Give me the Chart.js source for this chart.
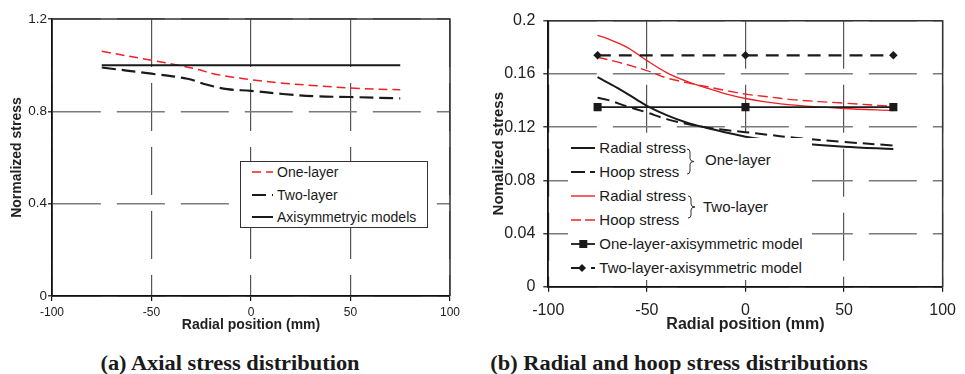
<!DOCTYPE html>
<html><head><meta charset="utf-8">
<script src="https://cdn.jsdelivr.net/npm/chart.js@4/dist/chart.umd.min.js"></script>
<style>
body{margin:0;background:#fff;width:965px;height:374px;overflow:hidden;position:relative;font-family:"Liberation Sans",Arial,sans-serif;color:#1a1a1a}
.wrap{position:absolute;top:0;height:340px}
#w1{left:0;width:480px}
#w2{left:480px;width:485px}
.cap{position:absolute;top:352px;line-height:22px;font-family:"Liberation Serif","Times New Roman",serif;font-weight:bold;font-size:20px;white-space:nowrap;transform:translateX(-50%) scaleX(1.12);color:#1a1a1a}
.lg{position:absolute;background:#fff}
.it{position:absolute;white-space:nowrap;line-height:18px}
svg{position:absolute;overflow:visible}
</style>
</head><body>
<div class="wrap" id="w1"><canvas id="c1" width="480" height="340"></canvas></div>
<div class="wrap" id="w2"><canvas id="c2" width="485" height="340"></canvas></div>

<div class="lg" id="lg1" style="left:240px;top:161px;width:186px;height:65px;border:1px solid #333"></div>
<div class="lg" id="lg2" style="left:568px;top:138px;width:244px;height:142px"></div>

<div class="cap" style="left:230px">(a) Axial stress distribution</div>
<div class="cap" style="left:679px">(b) Radial and hoop stress distributions</div>

<script>
// ---------- data: chart (a) axial stress ----------
const axialOneLayerX = [-75, -50, -36, -26, -19, -9, 0, 16, 33, 50, 75];
const axialOneLayerY = [1.060, 1.021, 0.999, 0.980, 0.963, 0.948, 0.937, 0.922, 0.911, 0.901, 0.893];
const axialTwoLayerX = [-75, -50, -32, -22, -12, 0, 16, 33, 50, 75];
const axialTwoLayerY = [0.990, 0.963, 0.941, 0.915, 0.896, 0.889, 0.875, 0.865, 0.862, 0.856];
const axialAxisymX = [-75, 75];
const axialAxisymY = [1.0, 1.0];
const axialLabels = ["One-layer", "Two-layer", "Axisymmetryic models"];

// ---------- data: chart (b) radial and hoop stress ----------
const oneRadialX = [-75, -65, -55, -50, -40, -30, -20, -10, 0, 10, 25, 50, 75];
const oneRadialY = [0.1575, 0.1495, 0.1405, 0.1360, 0.1290, 0.1235, 0.1195, 0.1160, 0.1128, 0.1105, 0.1080, 0.1052, 0.1035];
const oneHoopX = [-75, -70, -60, -50, -40, -30, -20, -10, 0, 10, 25, 50, 75];
const oneHoopY = [0.1420, 0.1405, 0.1355, 0.1310, 0.1260, 0.1225, 0.1198, 0.1178, 0.1162, 0.1145, 0.1120, 0.1088, 0.1062];
const twoRadialX = [-75, -70, -60, -50, -40, -30, -20, -10, 0, 10, 25, 50, 75];
const twoRadialY = [0.1890, 0.1865, 0.1800, 0.1700, 0.1610, 0.1545, 0.1495, 0.1450, 0.1415, 0.1390, 0.1365, 0.1340, 0.1325];
const twoHoopX = [-75, -65, -50, -40, -30, -20, -10, 0, 10, 25, 50, 75];
const twoHoopY = [0.1725, 0.1690, 0.1625, 0.1570, 0.1535, 0.1505, 0.1475, 0.1448, 0.1430, 0.1405, 0.1380, 0.1355];
const oneAxisymX = [-75, 0, 75];
const oneAxisymY = [0.135, 0.135, 0.135];
const twoAxisymX = [-75, 0, 75];
const twoAxisymY = [0.174, 0.174, 0.174];
const stressLabels = ["Radial stress", "Hoop stress", "Radial stress", "Hoop stress",
  "One-layer-axisymmetric model", "Two-layer-axisymmetric model"];
const groupLabels = ["One-layer", "Two-layer"];

// ---------- axis settings ----------
const xTicksA = {min: -100, max: 100, step: 50};
const yTicksA = {min: 0, max: 1.2, step: 0.4};
const xTicksB = {min: -100, max: 100, step: 50};
const yTicksB = {min: 0, max: 0.2, step: 0.04};
const xTitle = "Radial position (mm)";
const yTitleA = "Normalized stress";
const yTitleB = "Nomalized stress";

const RED = '#ec2227';
const BLK = '#1a1a1a';
const pts = (xs, ys) => xs.map((x, i) => ({x, y: ys[i]}));
const fmt = v => String(+Number(v).toFixed(4));

const framePlugin = {
  id: 'frame',
  beforeDatasetsDraw(chart) {
    const {ctx, chartArea: a} = chart;
    ctx.save();
    ctx.strokeStyle = '#333';
    ctx.lineWidth = 1.5;
    ctx.beginPath();
    ctx.moveTo(a.left, a.top); ctx.lineTo(a.right, a.top); ctx.lineTo(a.right, a.bottom);
    ctx.stroke();
    ctx.restore();
  }
};

function makeChart(id, cfg) {
  return new Chart(document.getElementById(id), {
    type: 'line',
    data: {datasets: cfg.datasets},
    plugins: [framePlugin],
    options: {
      responsive: false, animation: false, devicePixelRatio: 1,
      layout: {padding: cfg.pad},
      plugins: {legend: {display: false}, tooltip: {enabled: false}},
      elements: {line: {tension: 0.35, fill: false}},
      scales: {
        x: {
          type: 'linear', min: cfg.xt.min, max: cfg.xt.max,
          afterFit: s => { s.height = cfg.xH; },
          ticks: {stepSize: cfg.xt.step, color: '#222', padding: cfg.xPad, callback: fmt,
                  font: {family: 'Liberation Sans', size: cfg.xFs}},
          grid: {color: '#555', lineWidth: 1.2, tickLength: 5,
                 tickColor: '#111', tickBorderDash: [], tickWidth: 1.2},
          border: {color: '#111', width: 1.8, dash: [48, 16]},
          title: {display: true, text: xTitle, color: '#222',
                  font: {family: 'Liberation Sans', size: cfg.tFs, weight: 'bold'},
                  padding: {top: 0, bottom: cfg.xTitlePad}}
        },
        y: {
          type: 'linear', min: cfg.yt.min, max: cfg.yt.max,
          afterFit: s => { s.width = cfg.yW; },
          ticks: {stepSize: cfg.yt.step, color: '#222', padding: cfg.yPad, callback: fmt,
                  font: {family: 'Liberation Sans', size: cfg.yFs}},
          grid: {color: '#7a7a7a', lineWidth: 1.6, tickLength: cfg.yTick,
                 tickColor: '#111', tickBorderDash: [], tickWidth: 1.2},
          border: {color: '#111', width: 1.8, dash: [48, 16]},
          title: {display: true, text: cfg.yTitle, color: '#222',
                  font: {family: 'Liberation Sans', size: cfg.ytFs, weight: 'bold'},
                  padding: {top: cfg.yTitlePad, bottom: 0}}
        }
      }
    }
  });
}

makeChart('c1', {
  pad: {left: 0, top: 19, right: 30, bottom: 0},
  xt: xTicksA, yt: yTicksA, xH: 44, yW: 52,
  xFs: 12, yFs: 13.5, tFs: 14, ytFs: 14, xPad: 4, yPad: 1, yTick: 4,
  xTitlePad: 6.6, yTitlePad: 8.6, yTitle: yTitleA,
  datasets: [
    {label: axialLabels[2], data: pts(axialAxisymX, axialAxisymY), borderColor: BLK, borderWidth: 2, pointRadius: 0},
    {label: axialLabels[1], data: pts(axialTwoLayerX, axialTwoLayerY), borderColor: BLK, borderWidth: 2.2, borderDash: [14, 6], pointRadius: 0},
    {label: axialLabels[0], data: pts(axialOneLayerX, axialOneLayerY), borderColor: RED, borderWidth: 1.5, borderDash: [9, 5], pointRadius: 0}
  ]
});

makeChart('c2', {
  pad: {left: 0, top: 20.7, right: 15.7, bottom: 0},
  xt: xTicksB, yt: yTicksB, xH: 53.3, yW: 68.3,
  xFs: 16, yFs: 16, tFs: 16, ytFs: 15, xPad: 9, yPad: 8, yTick: 5,
  xTitlePad: 5.4, yTitlePad: 10, yTitle: yTitleB,
  datasets: [
    {label: stressLabels[4], data: pts(oneAxisymX, oneAxisymY), borderColor: BLK, borderWidth: 1.6,
     pointStyle: 'rect', pointRadius: 5.7, pointBackgroundColor: BLK, pointBorderColor: BLK, pointBorderWidth: 0},
    {label: stressLabels[5], data: pts(twoAxisymX, twoAxisymY), borderColor: BLK, borderWidth: 2.2, borderDash: [13, 8],
     pointStyle: 'rectRot', pointRadius: 4.3, pointBackgroundColor: BLK, pointBorderColor: BLK, pointBorderWidth: 0},
    {label: stressLabels[0], data: pts(oneRadialX, oneRadialY), borderColor: BLK, borderWidth: 2, pointRadius: 0},
    {label: stressLabels[1], data: pts(oneHoopX, oneHoopY), borderColor: BLK, borderWidth: 2, borderDash: [12, 6], pointRadius: 0},
    {label: stressLabels[2], data: pts(twoRadialX, twoRadialY), borderColor: RED, borderWidth: 1.4, pointRadius: 0},
    {label: stressLabels[3], data: pts(twoHoopX, twoHoopY), borderColor: RED, borderWidth: 1.4, borderDash: [10, 5], pointRadius: 0}
  ]
});

// ---------- HTML legends ----------
const NS = 'http://www.w3.org/2000/svg';
function addSvg(parent, x, y, w, h, inner) {
  const s = document.createElementNS(NS, 'svg');
  s.setAttribute('width', w); s.setAttribute('height', h);
  s.style.left = x + 'px'; s.style.top = y + 'px';
  s.innerHTML = inner;
  parent.appendChild(s);
}
function addText(parent, x, cy, txt, fs) {
  const d = document.createElement('div');
  d.className = 'it';
  d.style.left = x + 'px'; d.style.top = (cy - 9) + 'px'; d.style.fontSize = fs + 'px';
  d.textContent = txt;
  parent.appendChild(d);
}
const body = document.body;
const lgA = [
  {cy: 172.3, svg: `<line x1="0" y1="3" x2="21" y2="3" stroke="${RED}" stroke-width="1.6" stroke-dasharray="9 5"/>`},
  {cy: 195, svg: `<line x1="0" y1="3" x2="21" y2="3" stroke="${BLK}" stroke-width="2.2" stroke-dasharray="14 6"/>`},
  {cy: 217, svg: `<line x1="0" y1="3" x2="21" y2="3" stroke="${BLK}" stroke-width="2"/>`}
];
lgA.forEach((r, i) => {
  addSvg(body, 252, r.cy - 3, 21, 6, r.svg);
  addText(body, 277, r.cy, axialLabels[i], 14);
});
const lgB = [
  {cy: 148.3, svg: `<line x1="0" y1="5" x2="24" y2="5" stroke="${BLK}" stroke-width="2"/>`},
  {cy: 172.3, svg: `<line x1="0" y1="5" x2="24" y2="5" stroke="${BLK}" stroke-width="2" stroke-dasharray="14 5"/>`},
  {cy: 196, svg: `<line x1="0" y1="5" x2="24" y2="5" stroke="${RED}" stroke-width="1.4"/>`},
  {cy: 220, svg: `<line x1="0" y1="5" x2="24" y2="5" stroke="${RED}" stroke-width="1.6" stroke-dasharray="10 4"/>`},
  {cy: 244.3, svg: `<line x1="0" y1="5" x2="24" y2="5" stroke="${BLK}" stroke-width="1.8"/><rect x="8.3" y="1" width="8" height="8" fill="${BLK}"/>`},
  {cy: 267.5, svg: `<line x1="0" y1="5" x2="24" y2="5" stroke="${BLK}" stroke-width="2" stroke-dasharray="14 6"/><path d="M11 1 L15 5 L11 9 L7 5 Z" fill="${BLK}"/>`}
];
lgB.forEach((r, i) => {
  addSvg(body, 570.7, r.cy - 5, 24, 10, r.svg);
  addText(body, 599.3, r.cy, stressLabels[i], 15);
});
function brace(x, y0, y1) {
  const m = (y0 + y1) / 2;
  const d = `M0 0 Q3 0 3 3 L3 ${m - y0 - 3} Q3 ${m - y0} 7 ${m - y0} Q3 ${m - y0} 3 ${m - y0 + 3} L3 ${y1 - y0 - 3} Q3 ${y1 - y0} 0 ${y1 - y0}`;
  addSvg(body, x, y0, 8, y1 - y0, `<path d="${d}" fill="none" stroke="#333" stroke-width="1"/>`);
}
brace(687, 149, 174);
brace(688, 196, 218);
addText(body, 705, 160, groupLabels[0], 15);
addText(body, 703, 206.5, groupLabels[1], 15);
</script>
</body></html>
